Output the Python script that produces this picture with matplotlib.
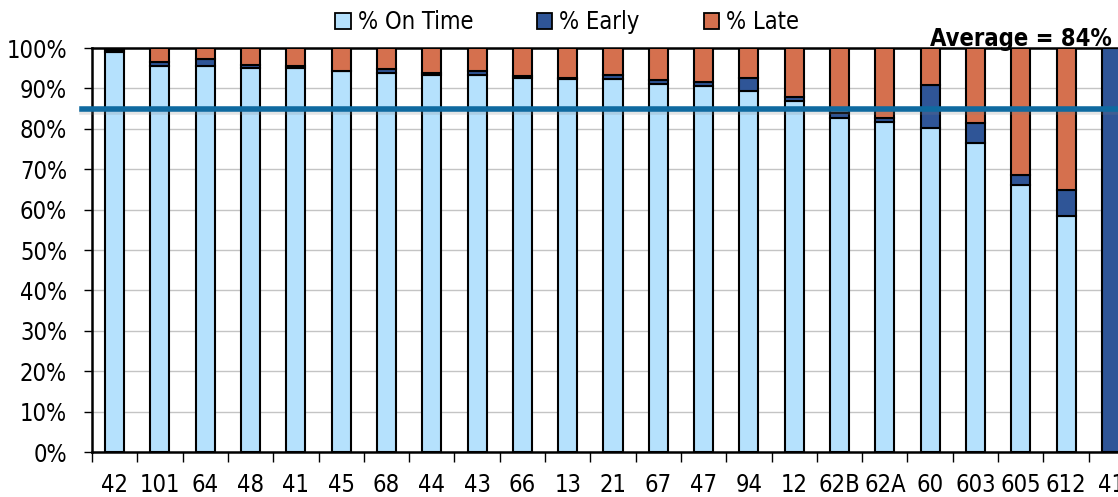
import numpy as np
import matplotlib
matplotlib.use("Agg")
import matplotlib.pyplot as plt
import matplotlib.patheffects as pe
from matplotlib.patches import Patch

plt.rcParams['font.family'] = ['DejaVu Sans']
plt.rcParams['font.stretch'] = 'condensed'

# route labels and percentages
routes = ['42', '101', '64', '48', '41', '45', '68', '44', '43', '66', '13', '21',
          '67', '47', '94', '12', '62B', '62A', '60', '603', '605', '612', '41']
on_time = [99.0, 95.5, 95.5, 95.1, 95.0, 94.2, 93.7, 93.3, 93.2, 92.5, 92.3, 92.4,
           91.2, 90.7, 89.3, 87.0, 82.7, 81.7, 80.1, 76.6, 66.0, 58.5, 0.0]
early = [0.6, 1.1, 1.7, 0.6, 0.5, 0.2, 1.2, 0.4, 1.0, 0.6, 0.3, 1.0,
         0.8, 1.0, 3.2, 0.9, 1.2, 0.9, 10.8, 4.8, 2.6, 6.4, 100.0]
late = [0.4, 3.4, 2.8, 4.3, 4.5, 5.6, 5.1, 6.3, 5.8, 6.9, 7.4, 6.6,
        8.0, 8.3, 7.5, 12.1, 16.1, 17.4, 9.1, 18.6, 31.4, 35.1, 0.0]
average_line = 85.0
average_label = "Average = 84%"

c_on = '#b5e1fd'
c_early = '#2f5597'
c_late = '#d5704e'
c_avg = '#0f6aa0'

fig = plt.figure(figsize=(11.18, 4.97), dpi=100)
# plot area runs past the right edge of the picture, like the reference crop
ax = fig.add_axes([92 / 1118, 45 / 497, 1042 / 1118, 404 / 497])

x = np.arange(len(routes))
w = 0.42
on_time = np.array(on_time)
early = np.array(early)
late = np.array(late)

ax.bar(x, on_time, w, color=c_on, edgecolor='black', linewidth=1.5, zorder=3)
ax.bar(x, early, w, bottom=on_time, color=c_early, edgecolor='black', linewidth=1.5, zorder=3)
ax.bar(x, late, w, bottom=on_time + early, color=c_late, edgecolor='black', linewidth=1.5, zorder=3)

ax.set_xlim(-0.5, len(routes) - 0.5)
ax.set_ylim(0, 100)

# average line with a soft shadow
ax.plot([-0.72, len(routes) + 1], [average_line, average_line], color=c_avg, lw=4,
        zorder=5, clip_on=False,
        path_effects=[pe.SimpleLineShadow(offset=(0, -2.5), shadow_color='#808080', alpha=0.2),
                      pe.Normal()])

ax.text(20.0, 100.6, average_label, ha='center', va='baseline', fontsize=17,
        fontweight='bold', zorder=1, clip_on=False)

# y axis
ax.set_yticks(np.arange(0, 101, 10))
ax.set_yticklabels(['%d%%' % v for v in range(0, 101, 10)])
ax.yaxis.grid(True, color='#c4c4c4', lw=1, zorder=0)
ax.tick_params(axis='y', labelsize=17, length=6, width=1, pad=12)

# x axis: tick marks between categories, labels at centers
ax.set_xticks(np.arange(-0.5, len(routes), 1))
ax.set_xticklabels([])
ax.set_xticks(x, minor=True)
ax.set_xticklabels(routes, minor=True)
ax.tick_params(axis='x', which='major', length=7, width=1)
ax.tick_params(axis='x', which='minor', length=0, labelsize=17, pad=15)

for s in ['left', 'top', 'bottom']:
    ax.spines[s].set_linewidth(1.8)
ax.spines['right'].set_visible(False)

handles = [Patch(facecolor=c_on, edgecolor='black', lw=1.3, label='% On Time'),
           Patch(facecolor=c_early, edgecolor='black', lw=1.3, label='% Early'),
           Patch(facecolor=c_late, edgecolor='black', lw=1.3, label='% Late')]
ax.legend(handles=handles, loc='lower center', bbox_to_anchor=(0.456, 1.005), ncol=3,
          frameon=False, fontsize=17, handlelength=0.65, handleheight=0.65,
          handletextpad=0.3, columnspacing=2.7, borderaxespad=0.1)

fig.savefig('out.png', dpi=100)
